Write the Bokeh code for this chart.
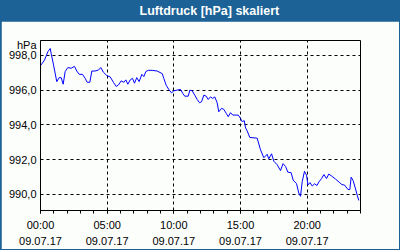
from bokeh.plotting import figure
from bokeh.models import FixedTicker, Range1d
from bokeh.layouts import column
from bokeh.embed import file_html
from bokeh.resources import INLINE
from bokeh.core.properties import value

TITLE = "Luftdruck [hPa] skaliert"
UNIT = "hPa"
DATE = "09.07.17"

# hours since 00:00 on 09.07.17
hours = [0.0, 0.3, 0.55, 0.73, 0.8, 0.98, 1.22, 1.4, 1.55, 1.7, 1.85, 2.05, 2.3, 2.55, 2.72,
         2.9, 3.15, 3.35, 3.5, 3.7, 3.85, 4.1, 4.35, 4.52, 4.72, 4.97, 5.23, 5.47, 5.68, 5.85,
         6.05, 6.25, 6.4, 6.55, 6.73, 6.9, 7.05, 7.22, 7.4, 7.6, 7.75, 7.9, 8.08, 8.38, 8.75,
         9.13, 9.25, 9.43, 9.62, 9.83, 10.0, 10.25, 10.5, 10.67, 10.82, 11.08, 11.2, 11.38,
         11.57, 11.75, 11.93, 12.08, 12.25, 12.43, 12.58, 12.75, 12.92, 13.07, 13.25, 13.37,
         13.58, 13.75, 13.93, 14.08, 14.25, 14.42, 14.83, 15.0, 15.13, 15.28, 15.38, 15.5,
         15.7, 16.25, 16.5, 16.75, 17.0, 17.12, 17.33, 17.5, 17.75, 18.0, 18.19, 18.38, 18.55,
         18.8, 18.95, 19.2, 19.37, 19.5, 19.63, 19.8, 19.95, 20.06, 20.21, 20.38, 20.55,
         20.74, 20.87, 21.08, 21.26, 21.45, 21.62, 21.83, 22.13, 22.39, 22.61, 22.8, 23.06,
         23.2, 23.3, 23.45, 23.63, 23.75, 23.87]

pressure = [997.41, 997.73, 998.21, 998.40, 998.11, 997.44, 996.49, 996.72, 996.72, 996.34,
            997.07, 997.30, 997.26, 997.37, 997.10, 996.91, 996.91, 996.68, 996.45, 996.45,
            997.10, 997.10, 997.16, 997.30, 997.03, 996.84, 996.76, 996.45, 996.21, 996.30,
            996.53, 996.45, 996.59, 996.34, 996.59, 996.68, 996.40, 996.72, 996.49, 996.91,
            996.78, 997.07, 997.14, 997.14, 997.10, 996.95, 996.67, 996.28, 996.04, 995.84,
            995.96, 996.00, 996.04, 995.81, 995.65, 995.65, 996.00, 995.96, 995.71, 995.46,
            995.27, 995.33, 995.71, 995.65, 995.46, 995.61, 995.52, 995.61, 995.27, 994.75,
            994.95, 994.89, 994.66, 994.47, 994.70, 994.56, 994.56, 994.37, 994.18, 994.24,
            993.82, 993.65, 993.27, 993.23, 992.56, 992.10, 992.30, 992.04, 992.33, 991.90,
            991.70, 991.36, 991.76, 991.60, 991.27, 991.24, 990.81, 990.61, 990.07, 989.88,
            990.73, 991.32, 991.10, 990.53, 990.67, 990.47, 990.60, 990.50, 990.70, 990.90,
            991.13, 990.90, 991.16, 991.05, 990.87, 990.70, 990.55, 990.53, 990.27, 990.27,
            990.98, 990.78, 990.30, 989.95, 989.64]

x_ticks = [0, 5, 10, 15, 20]
x_tick_labels = ["00:00", "05:00", "10:00", "15:00", "20:00"]
y_ticks = [990, 992, 994, 996, 998]
y_tick_labels = ["990,0", "992,0", "994,0", "996,0", "998,0"]
unit_pos = 998.62  # y value where the unit label sits

BLUE = "#1c6296"
BG = "#fcfefc"
FONT = "Liberation Sans"

# title bar
t = figure(width=400, height=21, output_backend="svg", toolbar_location=None,
           x_range=Range1d(0, 400), y_range=Range1d(0, 1),
           min_border=0, min_border_left=0, min_border_right=0,
           min_border_top=0, min_border_bottom=0)
t.axis.visible = False
t.grid.visible = False
t.outline_line_color = None
t.background_fill_color = BLUE
t.border_fill_color = BLUE
t.text(x=[211], y=[0.5], text=[TITLE], text_align="center", text_baseline="middle",
       text_color="white", text_font=value(FONT), text_font_size="12.5px",
       text_font_style="bold")

# main chart
p = figure(width=398, height=228, output_backend="svg", toolbar_location=None,
           x_range=Range1d(0, 24), y_range=Range1d(989.06, 998.86),
           min_border_left=39, min_border_right=39, min_border_top=19,
           min_border_bottom=38, margin=(0, 1, 1, 1))
p.background_fill_color = BG
p.border_fill_color = BG
p.outline_line_color = "black"
p.outline_line_width = 1

p.line(hours, pressure, line_color="#0000ff", line_width=1)

p.xaxis.ticker = FixedTicker(ticks=x_ticks, minor_ticks=list(range(0, 25)))
p.xaxis.major_label_overrides = {tk: f"{lb}\n{DATE}" for tk, lb in zip(x_ticks, x_tick_labels)}
p.yaxis.ticker = FixedTicker(ticks=y_ticks + [unit_pos], minor_ticks=[])
overrides = {tk: lb for tk, lb in zip(y_ticks, y_tick_labels)}
overrides[unit_pos] = UNIT
p.yaxis.major_label_overrides = overrides
p.ygrid.ticker = FixedTicker(ticks=y_ticks, minor_ticks=[])
p.xgrid.ticker = FixedTicker(ticks=x_ticks, minor_ticks=[])

for ax in (p.xaxis[0], p.yaxis[0]):
    ax.axis_line_color = "black"
    ax.major_label_text_font = FONT
    ax.major_label_text_font_size = "11px"
    ax.major_label_text_color = "black"
p.xaxis.major_tick_out = 3
p.xaxis.major_tick_in = 0
p.xaxis.minor_tick_out = 3
p.xaxis.minor_tick_in = 0
p.xaxis.major_label_standoff = 5
p.xaxis.major_label_text_line_height = 1.35
p.yaxis.major_tick_out = 0
p.yaxis.major_tick_in = 0
p.yaxis.minor_tick_out = 0
p.yaxis.minor_tick_in = 0
p.yaxis.major_label_standoff = 4

p.grid.grid_line_color = "black"
p.grid.grid_line_dash = "3 3"
p.grid.grid_line_width = 1

layout = column(t, p, spacing=0, styles={"background-color": BLUE})
open("out.html", "w").write(file_html(layout, INLINE))
